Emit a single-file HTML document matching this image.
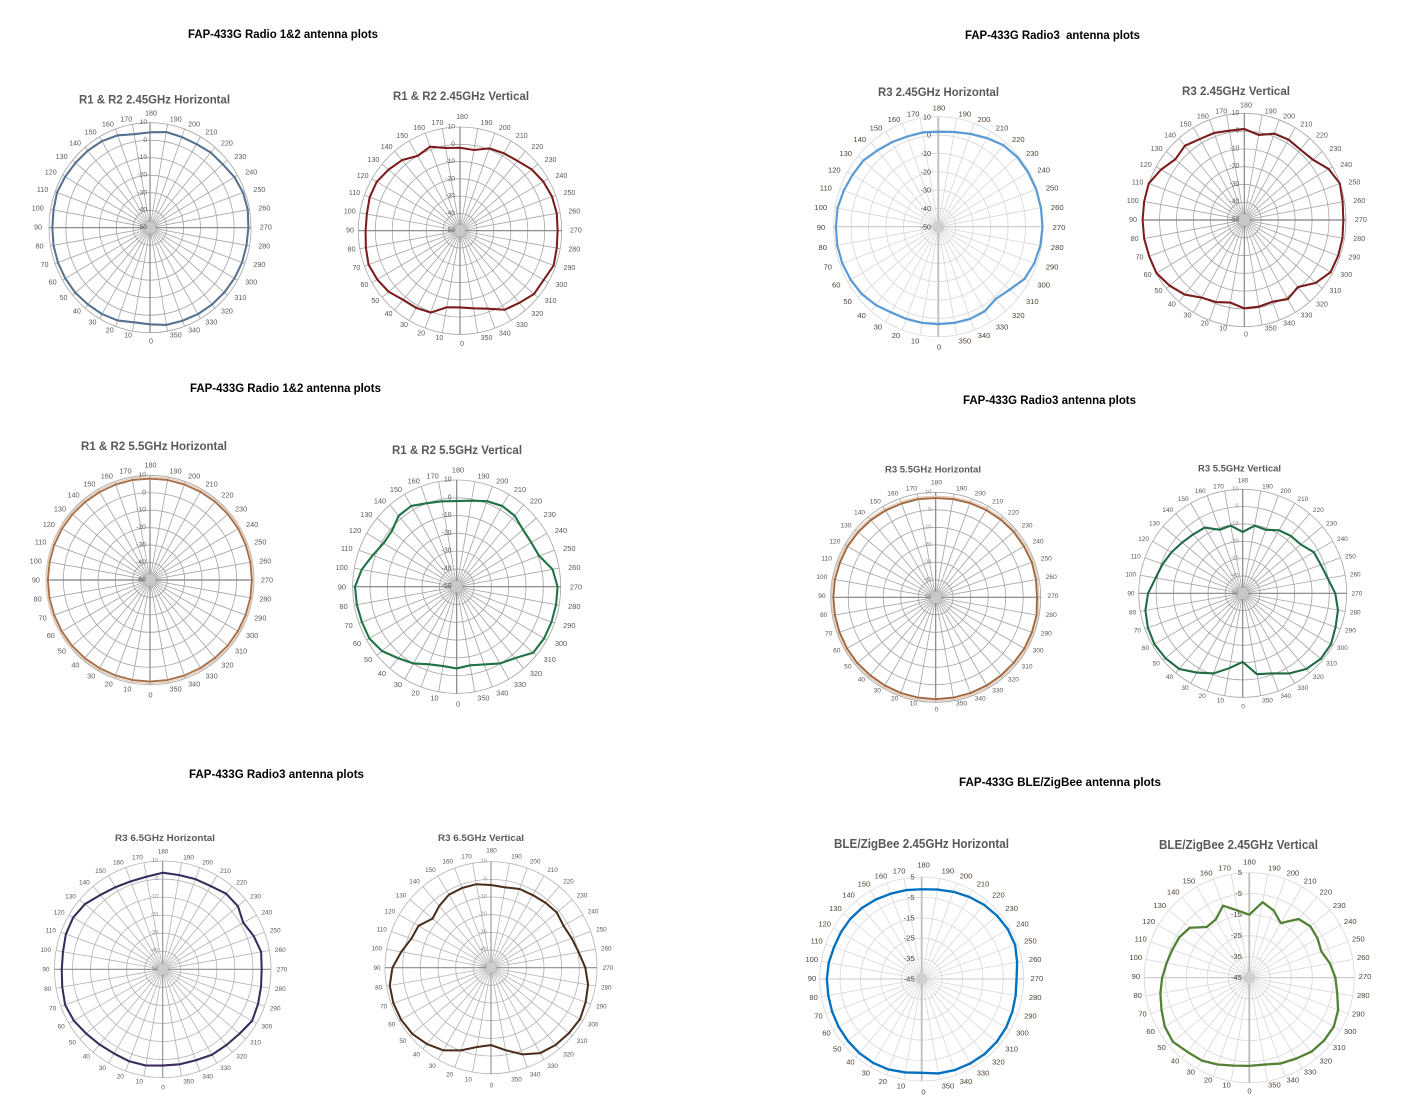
<!DOCTYPE html>
<html>
<head>
<meta charset="utf-8">
<style>
html,body{margin:0;padding:0;background:#fff;}
svg{display:block;}
.al text{text-anchor:middle;dominant-baseline:central;}
.rl text{text-anchor:end;dominant-baseline:central;}
.mt{font-weight:bold;font-size:11.5px;fill:#000;text-anchor:middle;dominant-baseline:central;white-space:pre;}
.ct{font-weight:bold;fill:#595959;text-anchor:middle;dominant-baseline:central;}
</style>
</head>
<body>
<svg width="1404" height="1120" viewBox="0 0 1404 1120" xmlns="http://www.w3.org/2000/svg" font-family="'Liberation Sans', Arial, sans-serif">
<defs>
<path id="spk" d="M-17.36 98.48L17.36-98.48M-34.2 93.97L34.2-93.97M-50 86.6L50-86.6M-64.28 76.6L64.28-76.6M-76.6 64.28L76.6-64.28M-86.6 50L86.6-50M-93.97 34.2L93.97-34.2M-98.48 17.36L98.48-17.36M-98.48-17.36L98.48 17.36M-93.97-34.2L93.97 34.2M-86.6-50L86.6 50M-76.6-64.28L76.6 64.28M-64.28-76.6L64.28 76.6M-50-86.6L50 86.6M-34.2-93.97L34.2 93.97M-17.36-98.48L17.36 98.48"/>
<path id="axv" d="M0-100V100"/>
<path id="axh" d="M-100 0H100"/>
<g id="r6"><circle r="16.667"/><circle r="33.333"/><circle r="50"/><circle r="66.667"/><circle r="83.333"/><circle r="100"/></g>
<g id="r5"><circle r="20"/><circle r="40"/><circle r="60"/><circle r="80"/><circle r="100"/></g>
</defs>

<!-- Main titles -->
<text class="mt" x="283" y="35" textLength="190" lengthAdjust="spacingAndGlyphs">FAP-433G Radio 1&amp;2 antenna plots</text>
<text class="mt" x="1052.5" y="36" textLength="175" lengthAdjust="spacingAndGlyphs">FAP-433G Radio3  antenna plots</text>
<text class="mt" x="285.5" y="389" textLength="191" lengthAdjust="spacingAndGlyphs">FAP-433G Radio 1&amp;2 antenna plots</text>
<text class="mt" x="1049.5" y="401" textLength="173" lengthAdjust="spacingAndGlyphs">FAP-433G Radio3 antenna plots</text>
<text class="mt" x="276.5" y="775" textLength="175" lengthAdjust="spacingAndGlyphs">FAP-433G Radio3 antenna plots</text>
<text class="mt" x="1060" y="783" textLength="202" lengthAdjust="spacingAndGlyphs">FAP-433G BLE/ZigBee antenna plots</text>

<!-- Chart titles -->
<text class="ct" font-size="12" x="154.5" y="99.5" textLength="151" lengthAdjust="spacingAndGlyphs">R1 &amp; R2 2.45GHz Horizontal</text>
<text class="ct" font-size="12" x="461" y="96" textLength="136" lengthAdjust="spacingAndGlyphs">R1 &amp; R2 2.45GHz Vertical</text>
<text class="ct" font-size="12" x="938.5" y="92" textLength="121" lengthAdjust="spacingAndGlyphs">R3 2.45GHz Horizontal</text>
<text class="ct" font-size="12" x="1236" y="91" textLength="108" lengthAdjust="spacingAndGlyphs">R3 2.45GHz Vertical</text>
<text class="ct" font-size="12" x="154" y="446" textLength="146" lengthAdjust="spacingAndGlyphs">R1 &amp; R2 5.5GHz Horizontal</text>
<text class="ct" font-size="12" x="457" y="450" textLength="130" lengthAdjust="spacingAndGlyphs">R1 &amp; R2 5.5GHz Vertical</text>
<text class="ct" font-size="9.5" x="933" y="470" textLength="96" lengthAdjust="spacingAndGlyphs">R3 5.5GHz Horizontal</text>
<text class="ct" font-size="9.5" x="1239.5" y="469" textLength="83" lengthAdjust="spacingAndGlyphs">R3 5.5GHz Vertical</text>
<text class="ct" font-size="9.5" x="165" y="838.5" textLength="100" lengthAdjust="spacingAndGlyphs">R3 6.5GHz Horizontal</text>
<text class="ct" font-size="9.5" x="481" y="838.5" textLength="86" lengthAdjust="spacingAndGlyphs">R3 6.5GHz Vertical</text>
<text class="ct" font-size="12.5" x="921.5" y="844" textLength="175" lengthAdjust="spacingAndGlyphs">BLE/ZigBee 2.45GHz Horizontal</text>
<text class="ct" font-size="12.5" x="1238.5" y="845" textLength="159" lengthAdjust="spacingAndGlyphs">BLE/ZigBee 2.45GHz Vertical</text>

<!-- ===== Chart 1 ===== -->
<g transform="translate(150 227.7) scale(1.01 1.05)">
<use href="#spk" fill="none" stroke="#a6a6a6" stroke-width="0.8"/>
<use href="#r6" fill="none" stroke="#a6a6a6" stroke-width="0.8"/>
<use href="#axv" fill="none" stroke="#808080" stroke-width="1.1"/>
<use href="#axh" fill="none" stroke="#808080" stroke-width="1.1"/>
<circle r="5.5" fill="#c8c8c8"/>
<g class="rl" font-size="6.5" fill="#595959"><text x="-3" y="-100">10</text><text x="-3" y="-83.3">0</text><text x="-3" y="-66.7">-10</text><text x="-3" y="-50">-20</text><text x="-3" y="-33.3">-30</text><text x="-3" y="-16.7">-40</text><text x="-3" y="0">-50</text></g>
<polygon id="p1" fill="none" stroke="#56708f" stroke-width="2" stroke-linejoin="round"/>
</g>
<g class="al" transform="translate(151 227) scale(1.039 1.046)" font-size="6.9" fill="#595959"><text x="0" y="109">0</text><text x="-22" y="103.4">10</text><text x="-39.7" y="98.7">20</text><text x="-56.3" y="90.9">30</text><text x="-71.3" y="80.4">40</text><text x="-84.2" y="67.5">50</text><text x="-94.7" y="52.5">60</text><text x="-102.5" y="35.9">70</text><text x="-107.2" y="18.2">80</text><text x="-108.8" y="0">90</text><text x="-109" y="-18.2">100</text><text x="-104.3" y="-35.9">110</text><text x="-96.5" y="-52.5">120</text><text x="-86" y="-67.5">130</text><text x="-73.1" y="-80.4">140</text><text x="-58.1" y="-90.9">150</text><text x="-41.5" y="-98.7">160</text><text x="-23.8" y="-103.4">170</text><text x="0" y="-109">180</text><text x="23.8" y="-103.4">190</text><text x="41.5" y="-98.7">200</text><text x="58.1" y="-90.9">210</text><text x="73.1" y="-80.4">220</text><text x="86" y="-67.5">230</text><text x="96.5" y="-52.5">240</text><text x="104.3" y="-35.9">250</text><text x="109" y="-18.2">260</text><text x="110.6" y="0">270</text><text x="109" y="18.2">280</text><text x="104.3" y="35.9">290</text><text x="96.5" y="52.5">300</text><text x="86" y="67.5">310</text><text x="73.1" y="80.4">320</text><text x="58.1" y="90.9">330</text><text x="41.5" y="98.7">340</text><text x="23.8" y="103.4">350</text></g>

<!-- ===== Chart 2 ===== -->
<g transform="translate(460 230.7) scale(1.017 1.037)">
<use href="#spk" fill="none" stroke="#a6a6a6" stroke-width="0.8"/>
<use href="#r6" fill="none" stroke="#a6a6a6" stroke-width="0.8"/>
<use href="#axv" fill="none" stroke="#808080" stroke-width="1.1"/>
<use href="#axh" fill="none" stroke="#808080" stroke-width="1.1"/>
<circle r="5.5" fill="#c8c8c8"/>
<g class="rl" font-size="6.5" fill="#595959"><text x="-5" y="-100">10</text><text x="-5" y="-83.3">0</text><text x="-5" y="-66.7">-10</text><text x="-5" y="-50">-20</text><text x="-5" y="-33.3">-30</text><text x="-5" y="-16.7">-40</text><text x="-5" y="0">-50</text></g>
<polygon id="p2" fill="none" stroke="#7b1c1c" stroke-width="2" stroke-linejoin="round"/>
</g>
<g class="al" transform="translate(462 230.5) scale(1.03 1.041)" font-size="6.9" fill="#595959"><text x="0" y="109">0</text><text x="-22" y="103.4">10</text><text x="-39.7" y="98.7">20</text><text x="-56.3" y="90.9">30</text><text x="-71.3" y="80.4">40</text><text x="-84.2" y="67.5">50</text><text x="-94.7" y="52.5">60</text><text x="-102.5" y="35.9">70</text><text x="-107.2" y="18.2">80</text><text x="-108.8" y="0">90</text><text x="-109" y="-18.2">100</text><text x="-104.3" y="-35.9">110</text><text x="-96.5" y="-52.5">120</text><text x="-86" y="-67.5">130</text><text x="-73.1" y="-80.4">140</text><text x="-58.1" y="-90.9">150</text><text x="-41.5" y="-98.7">160</text><text x="-23.8" y="-103.4">170</text><text x="0" y="-109">180</text><text x="23.8" y="-103.4">190</text><text x="41.5" y="-98.7">200</text><text x="58.1" y="-90.9">210</text><text x="73.1" y="-80.4">220</text><text x="86" y="-67.5">230</text><text x="96.5" y="-52.5">240</text><text x="104.3" y="-35.9">250</text><text x="109" y="-18.2">260</text><text x="110.6" y="0">270</text><text x="109" y="18.2">280</text><text x="104.3" y="35.9">290</text><text x="96.5" y="52.5">300</text><text x="86" y="67.5">310</text><text x="73.1" y="80.4">320</text><text x="58.1" y="90.9">330</text><text x="41.5" y="98.7">340</text><text x="23.8" y="103.4">350</text></g>

<!-- ===== Chart 3 ===== -->
<g transform="translate(938.3 226.7) scale(1.047 1.1)">
<use href="#spk" fill="none" stroke="#d9d9d9" stroke-width="0.8"/>
<use href="#r6" fill="none" stroke="#d9d9d9" stroke-width="0.8"/>
<use href="#axv" fill="none" stroke="#bfbfbf" stroke-width="1.8"/>
<use href="#axh" fill="none" stroke="#c8c8c8" stroke-width="1.1"/>
<circle r="5.5" fill="#d0d0d0"/>
<g class="rl" font-size="6.8" fill="#4f4336"><text x="-7" y="-100">10</text><text x="-7" y="-83.3">0</text><text x="-7" y="-66.7">-10</text><text x="-7" y="-50">-20</text><text x="-7" y="-33.3">-30</text><text x="-7" y="-16.7">-40</text><text x="-7" y="0">-50</text></g>
<polygon id="p3" fill="none" stroke="#5b9bd5" stroke-width="2.1" stroke-linejoin="round"/>
</g>
<g class="al" transform="translate(939 227.5) scale(1.085 1.096)" font-size="7" fill="#4f4336"><text x="0" y="109">0</text><text x="-22" y="103.4">10</text><text x="-39.7" y="98.7">20</text><text x="-56.3" y="90.9">30</text><text x="-71.3" y="80.4">40</text><text x="-84.2" y="67.5">50</text><text x="-94.7" y="52.5">60</text><text x="-102.5" y="35.9">70</text><text x="-107.2" y="18.2">80</text><text x="-108.8" y="0">90</text><text x="-109" y="-18.2">100</text><text x="-104.3" y="-35.9">110</text><text x="-96.5" y="-52.5">120</text><text x="-86" y="-67.5">130</text><text x="-73.1" y="-80.4">140</text><text x="-58.1" y="-90.9">150</text><text x="-41.5" y="-98.7">160</text><text x="-23.8" y="-103.4">170</text><text x="0" y="-109">180</text><text x="23.8" y="-103.4">190</text><text x="41.5" y="-98.7">200</text><text x="58.1" y="-90.9">210</text><text x="73.1" y="-80.4">220</text><text x="86" y="-67.5">230</text><text x="96.5" y="-52.5">240</text><text x="104.3" y="-35.9">250</text><text x="109" y="-18.2">260</text><text x="110.6" y="0">270</text><text x="109" y="18.2">280</text><text x="104.3" y="35.9">290</text><text x="96.5" y="52.5">300</text><text x="86" y="67.5">310</text><text x="73.1" y="80.4">320</text><text x="58.1" y="90.9">330</text><text x="41.5" y="98.7">340</text><text x="23.8" y="103.4">350</text></g>

<!-- ===== Chart 4 ===== -->
<g transform="translate(1244.3 220) scale(1.017 1.067)">
<use href="#spk" fill="none" stroke="#a6a6a6" stroke-width="0.8"/>
<use href="#r6" fill="none" stroke="#a6a6a6" stroke-width="0.8"/>
<use href="#axv" fill="none" stroke="#808080" stroke-width="1.1"/>
<use href="#axh" fill="none" stroke="#808080" stroke-width="1.1"/>
<circle r="5.5" fill="#c8c8c8"/>
<g class="rl" font-size="6.5" fill="#595959"><text x="-5" y="-100">10</text><text x="-5" y="-83.3">0</text><text x="-5" y="-66.7">-10</text><text x="-5" y="-50">-20</text><text x="-5" y="-33.3">-30</text><text x="-5" y="-16.7">-40</text><text x="-5" y="0">-50</text></g>
<polygon id="p4" fill="none" stroke="#7a1d1d" stroke-width="2" stroke-linejoin="round"/>
</g>
<g class="al" transform="translate(1246 219.5) scale(1.039 1.05)" font-size="6.9" fill="#595959"><text x="0" y="109">0</text><text x="-22" y="103.4">10</text><text x="-39.7" y="98.7">20</text><text x="-56.3" y="90.9">30</text><text x="-71.3" y="80.4">40</text><text x="-84.2" y="67.5">50</text><text x="-94.7" y="52.5">60</text><text x="-102.5" y="35.9">70</text><text x="-107.2" y="18.2">80</text><text x="-108.8" y="0">90</text><text x="-109" y="-18.2">100</text><text x="-104.3" y="-35.9">110</text><text x="-96.5" y="-52.5">120</text><text x="-86" y="-67.5">130</text><text x="-73.1" y="-80.4">140</text><text x="-58.1" y="-90.9">150</text><text x="-41.5" y="-98.7">160</text><text x="-23.8" y="-103.4">170</text><text x="0" y="-109">180</text><text x="23.8" y="-103.4">190</text><text x="41.5" y="-98.7">200</text><text x="58.1" y="-90.9">210</text><text x="73.1" y="-80.4">220</text><text x="86" y="-67.5">230</text><text x="96.5" y="-52.5">240</text><text x="104.3" y="-35.9">250</text><text x="109" y="-18.2">260</text><text x="110.6" y="0">270</text><text x="109" y="18.2">280</text><text x="104.3" y="35.9">290</text><text x="96.5" y="52.5">300</text><text x="86" y="67.5">310</text><text x="73.1" y="80.4">320</text><text x="58.1" y="90.9">330</text><text x="41.5" y="98.7">340</text><text x="23.8" y="103.4">350</text></g>

<!-- ===== Chart 5 ===== -->
<g transform="translate(150 580) scale(1.04 1.047)">
<use href="#spk" fill="none" stroke="#a6a6a6" stroke-width="0.8"/>
<use href="#r6" fill="none" stroke="#a6a6a6" stroke-width="0.8"/>
<use href="#axv" fill="none" stroke="#808080" stroke-width="1.1"/>
<use href="#axh" fill="none" stroke="#808080" stroke-width="1.1"/>
<circle r="5.5" fill="#c8c8c8"/>
<g class="rl" font-size="6.5" fill="#595959"><text x="-4" y="-100">10</text><text x="-4" y="-83.3">0</text><text x="-4" y="-66.7">-10</text><text x="-4" y="-50">-20</text><text x="-4" y="-33.3">-30</text><text x="-4" y="-16.7">-40</text><text x="-4" y="0">-50</text></g>
<polygon id="p5b" fill="none" stroke="#e3cbb5" stroke-width="1.2" stroke-linejoin="round"/>
<polygon id="p5" fill="none" stroke="#a8704a" stroke-width="1.8" stroke-linejoin="round"/>
</g>
<g class="al" transform="translate(150.5 580) scale(1.053 1.055)" font-size="6.9" fill="#595959"><text x="0" y="109">0</text><text x="-22" y="103.4">10</text><text x="-39.7" y="98.7">20</text><text x="-56.3" y="90.9">30</text><text x="-71.3" y="80.4">40</text><text x="-84.2" y="67.5">50</text><text x="-94.7" y="52.5">60</text><text x="-102.5" y="35.9">70</text><text x="-107.2" y="18.2">80</text><text x="-108.8" y="0">90</text><text x="-109" y="-18.2">100</text><text x="-104.3" y="-35.9">110</text><text x="-96.5" y="-52.5">120</text><text x="-86" y="-67.5">130</text><text x="-73.1" y="-80.4">140</text><text x="-58.1" y="-90.9">150</text><text x="-41.5" y="-98.7">160</text><text x="-23.8" y="-103.4">170</text><text x="0" y="-109">180</text><text x="23.8" y="-103.4">190</text><text x="41.5" y="-98.7">200</text><text x="58.1" y="-90.9">210</text><text x="73.1" y="-80.4">220</text><text x="86" y="-67.5">230</text><text x="96.5" y="-52.5">240</text><text x="104.3" y="-35.9">250</text><text x="109" y="-18.2">260</text><text x="110.6" y="0">270</text><text x="109" y="18.2">280</text><text x="104.3" y="35.9">290</text><text x="96.5" y="52.5">300</text><text x="86" y="67.5">310</text><text x="73.1" y="80.4">320</text><text x="58.1" y="90.9">330</text><text x="41.5" y="98.7">340</text><text x="23.8" y="103.4">350</text></g>

<!-- ===== Chart 6 ===== -->
<g transform="translate(456.7 586.7) scale(1.04 1.067)">
<use href="#spk" fill="none" stroke="#a6a6a6" stroke-width="0.8"/>
<use href="#r6" fill="none" stroke="#a6a6a6" stroke-width="0.8"/>
<use href="#axv" fill="none" stroke="#808080" stroke-width="1.1"/>
<use href="#axh" fill="none" stroke="#808080" stroke-width="1.1"/>
<circle r="5.5" fill="#c8c8c8"/>
<g class="rl" font-size="6.5" fill="#595959"><text x="-5" y="-100">10</text><text x="-5" y="-83.3">0</text><text x="-5" y="-66.7">-10</text><text x="-5" y="-50">-20</text><text x="-5" y="-33.3">-30</text><text x="-5" y="-16.7">-40</text><text x="-5" y="0">-50</text></g>
<polygon id="p6" fill="none" stroke="#217346" stroke-width="2" stroke-linejoin="round"/>
</g>
<g class="al" transform="translate(458 587) scale(1.067 1.073)" font-size="6.9" fill="#595959"><text x="0" y="109">0</text><text x="-22" y="103.4">10</text><text x="-39.7" y="98.7">20</text><text x="-56.3" y="90.9">30</text><text x="-71.3" y="80.4">40</text><text x="-84.2" y="67.5">50</text><text x="-94.7" y="52.5">60</text><text x="-102.5" y="35.9">70</text><text x="-107.2" y="18.2">80</text><text x="-108.8" y="0">90</text><text x="-109" y="-18.2">100</text><text x="-104.3" y="-35.9">110</text><text x="-96.5" y="-52.5">120</text><text x="-86" y="-67.5">130</text><text x="-73.1" y="-80.4">140</text><text x="-58.1" y="-90.9">150</text><text x="-41.5" y="-98.7">160</text><text x="-23.8" y="-103.4">170</text><text x="0" y="-109">180</text><text x="23.8" y="-103.4">190</text><text x="41.5" y="-98.7">200</text><text x="58.1" y="-90.9">210</text><text x="73.1" y="-80.4">220</text><text x="86" y="-67.5">230</text><text x="96.5" y="-52.5">240</text><text x="104.3" y="-35.9">250</text><text x="109" y="-18.2">260</text><text x="110.6" y="0">270</text><text x="109" y="18.2">280</text><text x="104.3" y="35.9">290</text><text x="96.5" y="52.5">300</text><text x="86" y="67.5">310</text><text x="73.1" y="80.4">320</text><text x="58.1" y="90.9">330</text><text x="41.5" y="98.7">340</text><text x="23.8" y="103.4">350</text></g>

<!-- ===== Chart 7 ===== -->
<g transform="translate(935.7 597.3) scale(1.05 1.05)">
<use href="#spk" fill="none" stroke="#a6a6a6" stroke-width="0.8"/>
<use href="#r6" fill="none" stroke="#a6a6a6" stroke-width="0.8"/>
<use href="#axv" fill="none" stroke="#808080" stroke-width="1.1"/>
<use href="#axh" fill="none" stroke="#808080" stroke-width="1.1"/>
<circle r="5.5" fill="#c8c8c8"/>
<g class="rl" font-size="5.5" fill="#8c8c8c"><text x="-4" y="-100">10</text><text x="-4" y="-83.3">0</text><text x="-4" y="-66.7">-10</text><text x="-4" y="-50">-20</text><text x="-4" y="-33.3">-30</text><text x="-4" y="-16.7">-40</text><text x="-4" y="0">-50</text></g>
<polygon id="p7b" fill="none" stroke="#e3cbb5" stroke-width="1.2" stroke-linejoin="round"/>
<polygon id="p7" fill="none" stroke="#a0673f" stroke-width="1.8" stroke-linejoin="round"/>
</g>
<g class="al" transform="translate(936.5 596.5) scale(1.053 1.041)" font-size="6.3" fill="#595959"><text x="0" y="109">0</text><text x="-22" y="103.4">10</text><text x="-39.7" y="98.7">20</text><text x="-56.3" y="90.9">30</text><text x="-71.3" y="80.4">40</text><text x="-84.2" y="67.5">50</text><text x="-94.7" y="52.5">60</text><text x="-102.5" y="35.9">70</text><text x="-107.2" y="18.2">80</text><text x="-108.8" y="0">90</text><text x="-109" y="-18.2">100</text><text x="-104.3" y="-35.9">110</text><text x="-96.5" y="-52.5">120</text><text x="-86" y="-67.5">130</text><text x="-73.1" y="-80.4">140</text><text x="-58.1" y="-90.9">150</text><text x="-41.5" y="-98.7">160</text><text x="-23.8" y="-103.4">170</text><text x="0" y="-109">180</text><text x="23.8" y="-103.4">190</text><text x="41.5" y="-98.7">200</text><text x="58.1" y="-90.9">210</text><text x="73.1" y="-80.4">220</text><text x="86" y="-67.5">230</text><text x="96.5" y="-52.5">240</text><text x="104.3" y="-35.9">250</text><text x="109" y="-18.2">260</text><text x="110.6" y="0">270</text><text x="109" y="18.2">280</text><text x="104.3" y="35.9">290</text><text x="96.5" y="52.5">300</text><text x="86" y="67.5">310</text><text x="73.1" y="80.4">320</text><text x="58.1" y="90.9">330</text><text x="41.5" y="98.7">340</text><text x="23.8" y="103.4">350</text></g>

<!-- ===== Chart 8 ===== -->
<g transform="translate(1242.7 593.3) scale(1.04 1.04)">
<use href="#spk" fill="none" stroke="#a6a6a6" stroke-width="0.8"/>
<use href="#r6" fill="none" stroke="#a6a6a6" stroke-width="0.8"/>
<use href="#axv" fill="none" stroke="#808080" stroke-width="1.1"/>
<use href="#axh" fill="none" stroke="#808080" stroke-width="1.1"/>
<circle r="5.5" fill="#c8c8c8"/>
<g class="rl" font-size="5.5" fill="#8c8c8c"><text x="-4" y="-100">10</text><text x="-4" y="-83.3">0</text><text x="-4" y="-66.7">-10</text><text x="-4" y="-50">-20</text><text x="-4" y="-33.3">-30</text><text x="-4" y="-16.7">-40</text><text x="-4" y="0">-50</text></g>
<polygon id="p8" fill="none" stroke="#1f6b43" stroke-width="2" stroke-linejoin="round"/>
</g>
<g class="al" transform="translate(1243 594) scale(1.03 1.037)" font-size="6.3" fill="#595959"><text x="0" y="109">0</text><text x="-22" y="103.4">10</text><text x="-39.7" y="98.7">20</text><text x="-56.3" y="90.9">30</text><text x="-71.3" y="80.4">40</text><text x="-84.2" y="67.5">50</text><text x="-94.7" y="52.5">60</text><text x="-102.5" y="35.9">70</text><text x="-107.2" y="18.2">80</text><text x="-108.8" y="0">90</text><text x="-109" y="-18.2">100</text><text x="-104.3" y="-35.9">110</text><text x="-96.5" y="-52.5">120</text><text x="-86" y="-67.5">130</text><text x="-73.1" y="-80.4">140</text><text x="-58.1" y="-90.9">150</text><text x="-41.5" y="-98.7">160</text><text x="-23.8" y="-103.4">170</text><text x="0" y="-109">180</text><text x="23.8" y="-103.4">190</text><text x="41.5" y="-98.7">200</text><text x="58.1" y="-90.9">210</text><text x="73.1" y="-80.4">220</text><text x="86" y="-67.5">230</text><text x="96.5" y="-52.5">240</text><text x="104.3" y="-35.9">250</text><text x="109" y="-18.2">260</text><text x="110.6" y="0">270</text><text x="109" y="18.2">280</text><text x="104.3" y="35.9">290</text><text x="96.5" y="52.5">300</text><text x="86" y="67.5">310</text><text x="73.1" y="80.4">320</text><text x="58.1" y="90.9">330</text><text x="41.5" y="98.7">340</text><text x="23.8" y="103.4">350</text></g>

<!-- ===== Chart 9 ===== -->
<g transform="translate(162.7 969.3) scale(1.083 1.083)">
<use href="#spk" fill="none" stroke="#b3b3b3" stroke-width="0.75"/>
<use href="#r6" fill="none" stroke="#b3b3b3" stroke-width="0.75"/>
<use href="#axv" fill="none" stroke="#8c8c8c" stroke-width="1"/>
<use href="#axh" fill="none" stroke="#8c8c8c" stroke-width="1"/>
<circle r="5" fill="#cccccc"/>
<g class="rl" font-size="5.3" fill="#8c8c8c"><text x="-4" y="-100">10</text><text x="-4" y="-83.3">0</text><text x="-4" y="-66.7">-10</text><text x="-4" y="-50">-20</text><text x="-4" y="-33.3">-30</text><text x="-4" y="-16.7">-40</text><text x="-4" y="0">-50</text></g>
<polygon id="p9" fill="none" stroke="#3b2a5c" stroke-width="1.9" stroke-linejoin="round"/>
</g>
<g class="al" transform="translate(163 970) scale(1.076 1.083)" font-size="6" fill="#595959"><text x="0" y="109">0</text><text x="-22" y="103.4">10</text><text x="-39.7" y="98.7">20</text><text x="-56.3" y="90.9">30</text><text x="-71.3" y="80.4">40</text><text x="-84.2" y="67.5">50</text><text x="-94.7" y="52.5">60</text><text x="-102.5" y="35.9">70</text><text x="-107.2" y="18.2">80</text><text x="-108.8" y="0">90</text><text x="-109" y="-18.2">100</text><text x="-104.3" y="-35.9">110</text><text x="-96.5" y="-52.5">120</text><text x="-86" y="-67.5">130</text><text x="-73.1" y="-80.4">140</text><text x="-58.1" y="-90.9">150</text><text x="-41.5" y="-98.7">160</text><text x="-23.8" y="-103.4">170</text><text x="0" y="-109">180</text><text x="23.8" y="-103.4">190</text><text x="41.5" y="-98.7">200</text><text x="58.1" y="-90.9">210</text><text x="73.1" y="-80.4">220</text><text x="86" y="-67.5">230</text><text x="96.5" y="-52.5">240</text><text x="104.3" y="-35.9">250</text><text x="109" y="-18.2">260</text><text x="110.6" y="0">270</text><text x="109" y="18.2">280</text><text x="104.3" y="35.9">290</text><text x="96.5" y="52.5">300</text><text x="86" y="67.5">310</text><text x="73.1" y="80.4">320</text><text x="58.1" y="90.9">330</text><text x="41.5" y="98.7">340</text><text x="23.8" y="103.4">350</text></g>

<!-- ===== Chart 10 ===== -->
<g transform="translate(491 967.7) scale(1.06 1.06)">
<use href="#spk" fill="none" stroke="#b3b3b3" stroke-width="0.75"/>
<use href="#r6" fill="none" stroke="#b3b3b3" stroke-width="0.75"/>
<use href="#axv" fill="none" stroke="#8c8c8c" stroke-width="1"/>
<use href="#axh" fill="none" stroke="#8c8c8c" stroke-width="1"/>
<circle r="5" fill="#cccccc"/>
<g class="rl" font-size="5.3" fill="#8c8c8c"><text x="-4" y="-100">10</text><text x="-4" y="-83.3">0</text><text x="-4" y="-66.7">-10</text><text x="-4" y="-50">-20</text><text x="-4" y="-33.3">-30</text><text x="-4" y="-16.7">-40</text><text x="-4" y="0">-50</text></g>
<polygon id="p10" fill="none" stroke="#4a2c1a" stroke-width="1.9" stroke-linejoin="round"/>
</g>
<g class="al" transform="translate(491.5 968.5) scale(1.053 1.078)" font-size="6" fill="#595959"><text x="0" y="109">0</text><text x="-22" y="103.4">10</text><text x="-39.7" y="98.7">20</text><text x="-56.3" y="90.9">30</text><text x="-71.3" y="80.4">40</text><text x="-84.2" y="67.5">50</text><text x="-94.7" y="52.5">60</text><text x="-102.5" y="35.9">70</text><text x="-107.2" y="18.2">80</text><text x="-108.8" y="0">90</text><text x="-109" y="-18.2">100</text><text x="-104.3" y="-35.9">110</text><text x="-96.5" y="-52.5">120</text><text x="-86" y="-67.5">130</text><text x="-73.1" y="-80.4">140</text><text x="-58.1" y="-90.9">150</text><text x="-41.5" y="-98.7">160</text><text x="-23.8" y="-103.4">170</text><text x="0" y="-109">180</text><text x="23.8" y="-103.4">190</text><text x="41.5" y="-98.7">200</text><text x="58.1" y="-90.9">210</text><text x="73.1" y="-80.4">220</text><text x="86" y="-67.5">230</text><text x="96.5" y="-52.5">240</text><text x="104.3" y="-35.9">250</text><text x="109" y="-18.2">260</text><text x="110.6" y="0">270</text><text x="109" y="18.2">280</text><text x="104.3" y="35.9">290</text><text x="96.5" y="52.5">300</text><text x="86" y="67.5">310</text><text x="73.1" y="80.4">320</text><text x="58.1" y="90.9">330</text><text x="41.5" y="98.7">340</text><text x="23.8" y="103.4">350</text></g>

<!-- ===== Chart 11 ===== -->
<g transform="translate(921.7 979) scale(1.02 1.02)">
<use href="#spk" fill="none" stroke="#d9d9d9" stroke-width="0.8"/>
<use href="#r5" fill="none" stroke="#d9d9d9" stroke-width="0.8"/>
<use href="#axv" fill="none" stroke="#bfbfbf" stroke-width="1.8"/>
<use href="#axh" fill="none" stroke="#c8c8c8" stroke-width="1.1"/>
<circle r="5.5" fill="#d0d0d0"/>
<g class="rl" font-size="7.5" fill="#4f4336"><text x="-7" y="-100">5</text><text x="-7" y="-80">-5</text><text x="-7" y="-60">-15</text><text x="-7" y="-40">-25</text><text x="-7" y="-20">-35</text><text x="-7" y="0">-45</text></g>
<polygon id="p11" fill="none" stroke="#0070c0" stroke-width="2.3" stroke-linejoin="round"/>
</g>
<g class="al" transform="translate(923.5 978.5) scale(1.025 1.041)" font-size="7.4" fill="#4f4336"><text x="0" y="109">0</text><text x="-22" y="103.4">10</text><text x="-39.7" y="98.7">20</text><text x="-56.3" y="90.9">30</text><text x="-71.3" y="80.4">40</text><text x="-84.2" y="67.5">50</text><text x="-94.7" y="52.5">60</text><text x="-102.5" y="35.9">70</text><text x="-107.2" y="18.2">80</text><text x="-108.8" y="0">90</text><text x="-109" y="-18.2">100</text><text x="-104.3" y="-35.9">110</text><text x="-96.5" y="-52.5">120</text><text x="-86" y="-67.5">130</text><text x="-73.1" y="-80.4">140</text><text x="-58.1" y="-90.9">150</text><text x="-41.5" y="-98.7">160</text><text x="-23.8" y="-103.4">170</text><text x="0" y="-109">180</text><text x="23.8" y="-103.4">190</text><text x="41.5" y="-98.7">200</text><text x="58.1" y="-90.9">210</text><text x="73.1" y="-80.4">220</text><text x="86" y="-67.5">230</text><text x="96.5" y="-52.5">240</text><text x="104.3" y="-35.9">250</text><text x="109" y="-18.2">260</text><text x="110.6" y="0">270</text><text x="109" y="18.2">280</text><text x="104.3" y="35.9">290</text><text x="96.5" y="52.5">300</text><text x="86" y="67.5">310</text><text x="73.1" y="80.4">320</text><text x="58.1" y="90.9">330</text><text x="41.5" y="98.7">340</text><text x="23.8" y="103.4">350</text></g>

<!-- ===== Chart 12 ===== -->
<g transform="translate(1249.3 977.7) scale(1.05 1.05)">
<use href="#spk" fill="none" stroke="#d9d9d9" stroke-width="0.8"/>
<use href="#r5" fill="none" stroke="#d9d9d9" stroke-width="0.8"/>
<use href="#axv" fill="none" stroke="#bfbfbf" stroke-width="1.8"/>
<use href="#axh" fill="none" stroke="#c8c8c8" stroke-width="1.1"/>
<circle r="5.5" fill="#d0d0d0"/>
<g class="rl" font-size="7.3" fill="#4f4336"><text x="-7" y="-100">5</text><text x="-7" y="-80">-5</text><text x="-7" y="-60">-15</text><text x="-7" y="-40">-25</text><text x="-7" y="-20">-35</text><text x="-7" y="0">-45</text></g>
<polygon id="p12" fill="none" stroke="#548235" stroke-width="2.2" stroke-linejoin="round"/>
</g>
<g class="al" transform="translate(1249.5 976.5) scale(1.044 1.05)" font-size="7.3" fill="#4f4336"><text x="0" y="109">0</text><text x="-22" y="103.4">10</text><text x="-39.7" y="98.7">20</text><text x="-56.3" y="90.9">30</text><text x="-71.3" y="80.4">40</text><text x="-84.2" y="67.5">50</text><text x="-94.7" y="52.5">60</text><text x="-102.5" y="35.9">70</text><text x="-107.2" y="18.2">80</text><text x="-108.8" y="0">90</text><text x="-109" y="-18.2">100</text><text x="-104.3" y="-35.9">110</text><text x="-96.5" y="-52.5">120</text><text x="-86" y="-67.5">130</text><text x="-73.1" y="-80.4">140</text><text x="-58.1" y="-90.9">150</text><text x="-41.5" y="-98.7">160</text><text x="-23.8" y="-103.4">170</text><text x="0" y="-109">180</text><text x="23.8" y="-103.4">190</text><text x="41.5" y="-98.7">200</text><text x="58.1" y="-90.9">210</text><text x="73.1" y="-80.4">220</text><text x="86" y="-67.5">230</text><text x="96.5" y="-52.5">240</text><text x="104.3" y="-35.9">250</text><text x="109" y="-18.2">260</text><text x="110.6" y="0">270</text><text x="109" y="18.2">280</text><text x="104.3" y="35.9">290</text><text x="96.5" y="52.5">300</text><text x="86" y="67.5">310</text><text x="73.1" y="80.4">320</text><text x="58.1" y="90.9">330</text><text x="41.5" y="98.7">340</text><text x="23.8" y="103.4">350</text></g>
</svg>
<script>
(function(){
var D={
p1:[0.92,0.915,0.94,0.95,0.955,0.965,0.968,0.97,0.97,0.967,0.97,0.98,0.97,0.962,0.958,0.952,0.936,0.904,0.908,0.925,0.919,0.92,0.935,0.94,0.965,0.98,0.983,0.974,0.97,0.97,0.965,0.96,0.955,0.95,0.943,0.94],
p2:[0.74,0.75,0.84,0.86,0.87,0.916,0.94,0.957,0.94,0.928,0.93,0.945,0.945,0.916,0.888,0.833,0.862,0.81,0.80,0.79,0.845,0.862,0.879,0.92,0.946,0.963,0.966,0.96,0.966,0.98,0.95,0.95,0.908,0.88,0.80,0.76],
p3:[0.885,0.888,0.892,0.9,0.929,0.953,0.966,0.976,0.98,0.978,0.977,0.961,0.945,0.935,0.905,0.887,0.872,0.87,0.864,0.874,0.898,0.93,0.967,0.985,0.99,0.995,0.995,0.995,0.99,0.975,0.95,0.89,0.856,0.887,0.892,0.888],
p4:[0.828,0.786,0.818,0.84,0.912,0.958,0.997,0.995,1.0,1.0,1.0,1.0,0.945,0.885,0.908,0.876,0.868,0.85,0.853,0.81,0.861,0.87,0.86,0.88,0.957,1.0,0.982,0.974,0.98,0.982,0.979,0.917,0.82,0.856,0.815,0.825],
p5:[0.97,0.97,0.97,0.972,0.975,0.978,0.98,0.98,0.982,0.982,0.98,0.98,0.978,0.975,0.972,0.97,0.97,0.97,0.968,0.97,0.97,0.972,0.975,0.978,0.98,0.98,0.98,0.98,0.98,0.978,0.976,0.975,0.972,0.97,0.97,0.97],
p6:[0.766,0.755,0.774,0.831,0.875,0.938,0.97,0.97,0.975,0.978,0.927,0.86,0.813,0.813,0.868,0.874,0.833,0.813,0.803,0.819,0.853,0.874,0.868,0.832,0.828,0.844,0.936,0.97,0.97,0.97,0.97,0.961,0.874,0.831,0.775,0.748],
p7:[0.97,0.97,0.97,0.97,0.97,0.975,0.975,0.975,0.975,0.975,0.975,0.97,0.97,0.965,0.96,0.955,0.95,0.95,0.945,0.95,0.955,0.96,0.965,0.97,0.97,0.975,0.97,0.965,0.975,0.975,0.975,0.97,0.97,0.97,0.97,0.97],
p8:[0.66,0.73,0.82,0.88,0.95,0.97,0.98,0.97,0.95,0.91,0.85,0.82,0.79,0.76,0.74,0.73,0.65,0.66,0.59,0.66,0.65,0.70,0.72,0.73,0.79,0.80,0.83,0.89,0.93,0.95,0.98,0.98,0.95,0.89,0.82,0.79],
p9:[0.889,0.902,0.904,0.898,0.907,0.923,0.948,0.959,0.942,0.932,0.935,0.951,0.955,0.937,0.896,0.875,0.864,0.868,0.892,0.883,0.886,0.887,0.911,0.907,0.859,0.895,0.923,0.914,0.922,0.937,0.953,0.926,0.914,0.911,0.894,0.891],
p10:[0.73,0.76,0.83,0.90,0.94,0.97,0.98,0.98,0.97,0.93,0.86,0.80,0.79,0.72,0.76,0.795,0.80,0.80,0.78,0.77,0.79,0.79,0.80,0.81,0.79,0.81,0.84,0.89,0.93,0.95,0.97,0.96,0.95,0.93,0.87,0.79],
p11:[0.92,0.93,0.945,0.95,0.95,0.945,0.94,0.935,0.93,0.93,0.925,0.915,0.915,0.915,0.91,0.90,0.89,0.885,0.88,0.89,0.91,0.93,0.95,0.965,0.975,0.975,0.95,0.93,0.935,0.945,0.955,0.96,0.96,0.955,0.95,0.94],
p12:[0.84,0.85,0.88,0.91,0.92,0.95,0.93,0.89,0.86,0.83,0.80,0.78,0.77,0.74,0.63,0.64,0.73,0.65,0.60,0.73,0.68,0.60,0.73,0.76,0.75,0.73,0.78,0.82,0.85,0.90,0.93,0.93,0.92,0.89,0.87,0.84]
};
D.p5b=D.p5.map(function(v){return Math.min(v+0.018,1.0);});
D.p7b=D.p7.map(function(v){return Math.min(v+0.018,1.0);});
for(var k in D){
  var a=D[k],s=[];
  for(var i=0;i<36;i++){
    var t=i*Math.PI/18;
    s.push((-100*a[i]*Math.sin(t)).toFixed(2)+','+(100*a[i]*Math.cos(t)).toFixed(2));
  }
  var el=document.getElementById(k);
  if(el) el.setAttribute('points',s.join(' '));
}
})();
</script>
</body>
</html>
